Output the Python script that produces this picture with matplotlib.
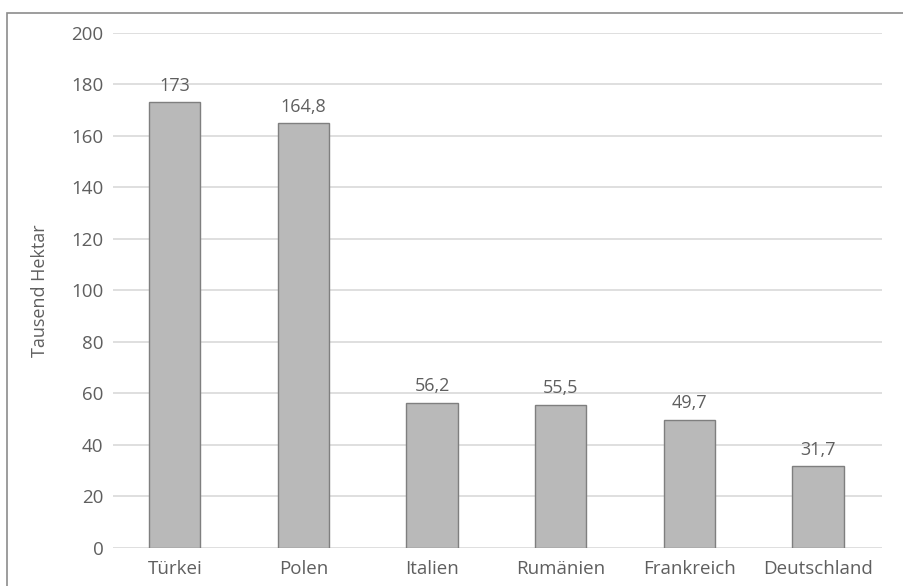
import matplotlib.pyplot as plt
from matplotlib.patches import Rectangle

# Werte aus der Grafik (Tausend Hektar)
laender = ['Türkei', 'Polen', 'Italien', 'Rumänien', 'Frankreich', 'Deutschland']
flaeche = [173, 164.8, 56.2, 55.5, 49.7, 31.7]
beschriftung = ['173', '164,8', '56,2', '55,5', '49,7', '31,7']
y_ticks = [0, 20, 40, 60, 80, 100, 120, 140, 160, 180, 200]

plt.rcParams['font.family'] = ['Open Sans', 'DejaVu Sans']
text_grau = '#5f5f5f'

fig = plt.figure(figsize=(9.04, 5.86), dpi=100)
ax = fig.add_axes([0.125, 0.065, 0.851, 0.879])

# grauer Rahmen um das Diagramm
fig.patches.append(Rectangle((0.008, -0.01), 1.2, 0.988, transform=fig.transFigure,
                             fill=False, edgecolor='#8c8c8c', linewidth=1.2))

x = range(len(laender))
bars = ax.bar(x, flaeche, width=0.40, color='#b9b9b9', edgecolor='#7f7f7f',
              linewidth=1.0, zorder=3)

for b, txt in zip(bars, beschriftung):
    ax.text(b.get_x() + b.get_width() / 2, b.get_height() + 3, txt,
            ha='center', va='bottom', fontsize=13, color=text_grau)

ax.set_ylim(0, 200)
ax.set_xlim(-0.48, 5.5)
ax.set_yticks(y_ticks)
ax.set_xticks(list(x))
ax.set_xticklabels(laender)
ax.tick_params(axis='both', length=0, labelsize=13.5, colors=text_grau)
ax.tick_params(axis='y', pad=7)
ax.tick_params(axis='x', pad=9)
ax.grid(axis='y', color='#d9d9d9', linewidth=1.2, zorder=0)
for s in ax.spines.values():
    s.set_visible(False)
ax.set_ylabel('Tausend Hektar', fontsize=13, color=text_grau, labelpad=16)

fig.savefig('out.png', dpi=100)
